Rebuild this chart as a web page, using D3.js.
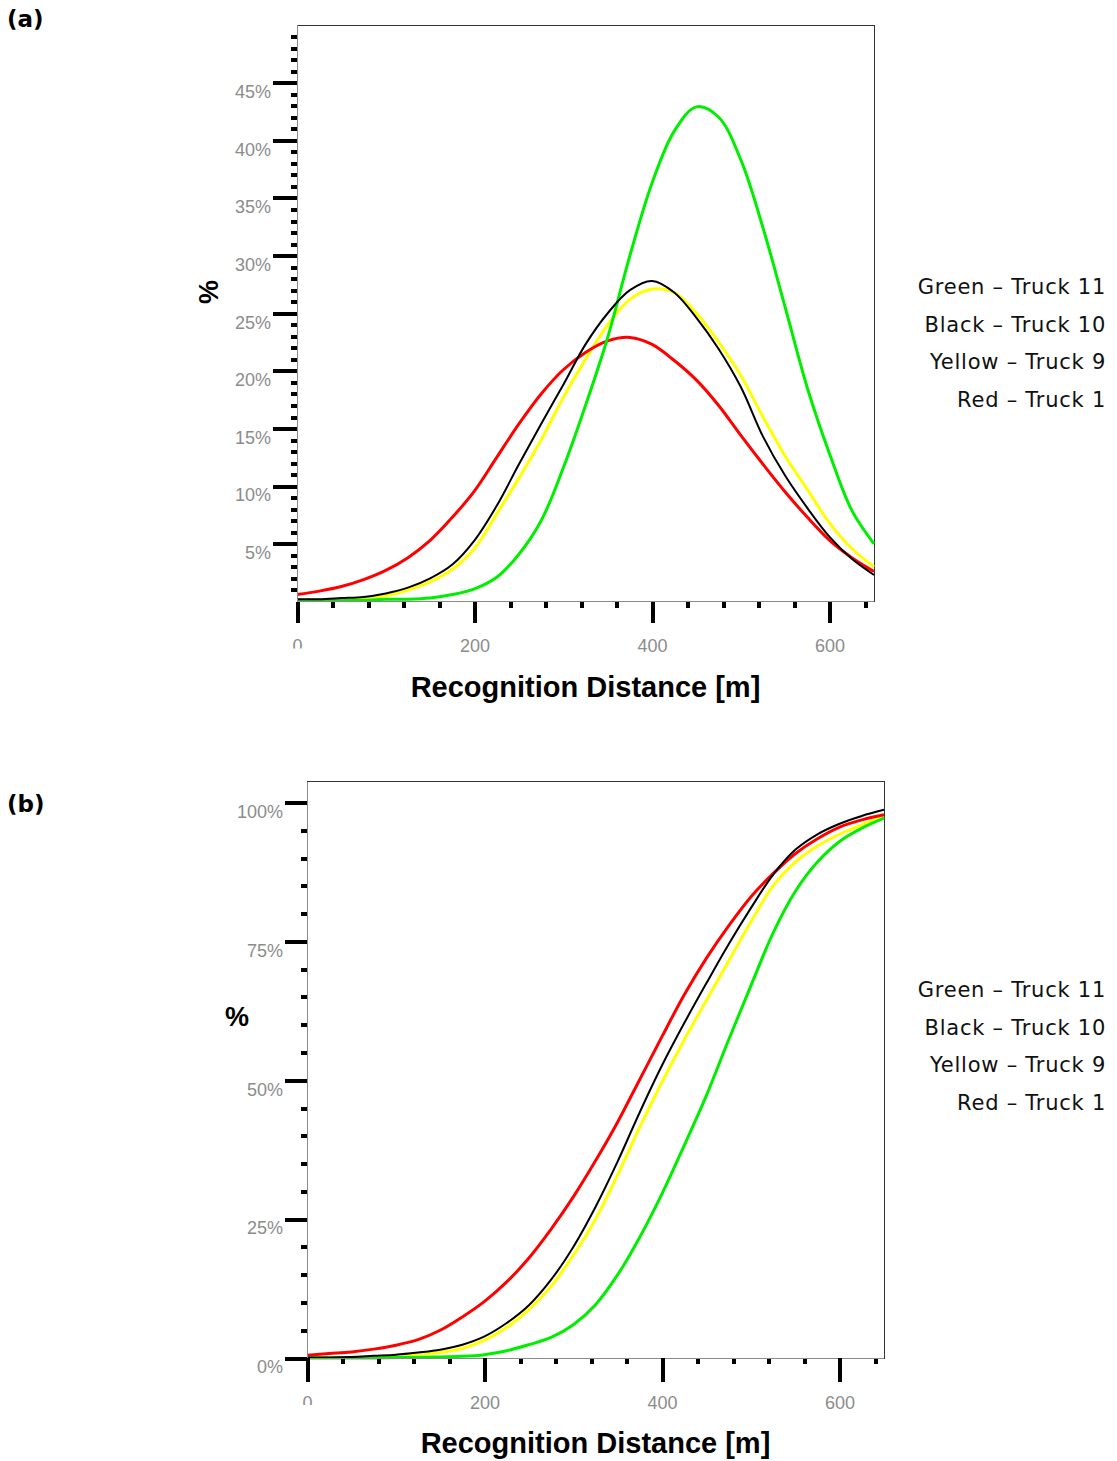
<!DOCTYPE html>
<html lang="en">
<head>
    <meta charset="UTF-8">
    <title>Recognition distance</title>
    <script src="https://cdn.jsdelivr.net/npm/d3@7"></script>
    <style>
        body { margin: 0; background: #fff; }
        svg { display: block; }
        .axis path { fill: none; stroke: #8a8a8a; stroke-width: 1; shape-rendering: crispEdges; }
        .axis line { stroke: #000; stroke-width: 4; shape-rendering: crispEdges; }
        .axis text { font-family: "Liberation Sans", Arial, sans-serif; font-size: 18px; fill: #8c8c8c; }
        .title { font-family: "Liberation Sans", Arial, sans-serif; font-weight: bold; fill: #000; }
        .legend text { font-family: "DejaVu Sans", Verdana, sans-serif; font-size: 21px; letter-spacing: 0.75px; fill: #111; }
        .panel { font-family: "DejaVu Sans", Verdana, sans-serif; font-weight: bold; font-size: 23px; }
    </style>
</head>
<body>
<script>
    var width = 1117;
    var height = 1461;

    // distances [m]
    var distance = [0, 25, 50, 75, 100, 125, 150, 175, 200, 225, 250, 275, 300, 325,
                    350, 375, 400, 425, 450, 475, 500, 525, 550, 575, 600, 625, 650];

    // (a) distribution, %
    var densGreen  = [0.1, 0.1, 0.1, 0.1, 0.2, 0.2, 0.3, 0.6, 1.1, 2.1, 4.1, 7.0, 11.6, 17.0,
                      22.9, 30.0, 36.3, 40.8, 42.9, 42.0, 38.3, 32.4, 25.5, 18.5, 12.8, 7.9, 5.0];
    var densBlack  = [0.2, 0.2, 0.3, 0.4, 0.7, 1.2, 2.0, 3.2, 5.3, 8.3, 11.9, 15.4, 18.8, 22.3,
                      25.0, 27.0, 27.8, 26.8, 24.6, 21.9, 18.6, 14.3, 10.9, 8.1, 5.6, 3.7, 2.3];
    var densYellow = [0.1, 0.1, 0.2, 0.3, 0.5, 1.0, 1.7, 2.8, 4.6, 7.6, 10.7, 14.0, 17.7, 21.0,
                      24.0, 26.2, 27.1, 26.8, 25.0, 22.5, 19.6, 16.0, 12.6, 9.7, 6.8, 4.6, 3.0];
    var densRed    = [0.6, 0.9, 1.3, 1.9, 2.7, 3.8, 5.3, 7.3, 9.6, 12.5, 15.4, 18.0, 20.1, 21.6,
                      22.6, 22.9, 22.3, 20.9, 19.2, 17.0, 14.4, 11.9, 9.5, 7.3, 5.3, 3.8, 2.6];

    // (b) cumulative, %
    var cumGreen  = [0.0, 0.0, 0.0, 0.0, 0.1, 0.1, 0.2, 0.3, 0.6, 1.3, 2.4, 3.7, 6.0, 9.6,
                     15.0, 21.8, 29.6, 38.3, 47.3, 57.3, 67.0, 76.5, 84.0, 89.3, 93.0, 95.4, 97.2];
    var cumBlack  = [0.1, 0.1, 0.2, 0.4, 0.6, 1.0, 1.5, 2.4, 3.9, 6.3, 9.5, 14.1, 20.0, 27.2,
                     35.4, 44.3, 52.7, 60.3, 67.5, 74.5, 81.0, 87.0, 91.5, 94.3, 96.2, 97.6, 98.7];
    var cumYellow = [0.0, 0.1, 0.1, 0.2, 0.4, 0.7, 1.0, 1.7, 3.2, 5.5, 8.7, 12.9, 18.5, 25.0,
                     33.0, 41.6, 49.7, 57.3, 64.4, 71.5, 78.5, 85.0, 89.3, 92.2, 94.3, 96.0, 97.4];
    var cumRed    = [0.5, 0.8, 1.1, 1.6, 2.3, 3.3, 5.0, 7.4, 10.2, 13.7, 18.0, 23.2, 29.0, 35.5,
                     42.5, 50.2, 57.9, 65.4, 72.0, 77.8, 83.0, 87.2, 90.8, 93.5, 95.6, 96.9, 97.8];

    var legendLabels = ["Green \u2013 Truck 11", "Black \u2013 Truck 10", "Yellow \u2013 Truck 9", "Red \u2013 Truck 1"];
    var xMajor = [0, 200, 400, 600];
    var xMinor = [40, 80, 120, 160, 240, 280, 320, 360, 440, 480, 520, 560, 640];

    var svg = d3.select("body").append("svg")
        .attr("width", width)
        .attr("height", height);

    // draw one panel
    function panel(p) {
        var x = d3.scaleLinear().domain([0, 650]).range([p.left, p.left + 577]);
        var y = d3.scaleLinear().domain([0, p.yMax]).range([p.bottom, p.top]);

        var g = svg.append("g");

        // frame
        g.append("rect")
            .attr("x", x(0)).attr("y", y(p.yMax))
            .attr("width", x(650) - x(0)).attr("height", y(0) - y(p.yMax))
            .attr("fill", "none").attr("stroke", "#333").attr("stroke-width", 1)
            .attr("shape-rendering", "crispEdges");

        // series: draw order yellow, red, green, black
        var series = [
            {v: p.data[2], c: "#ffff00", w: 3},
            {v: p.data[3], c: "#ff0000", w: 3},
            {v: p.data[0], c: "#00ee00", w: 3},
            {v: p.data[1], c: "#000000", w: 2}
        ];
        var line = d3.line()
            .x(function(d, i){ return x(distance[i]); })
            .y(function(d){ return y(d / 100); })
            .curve(d3.curveCatmullRom.alpha(0.5));
        g.selectAll("path.s").data(series).enter()
            .append("path").attr("class", "s")
            .attr("d", function(d){ return line(d.v); })
            .attr("fill", "none")
            .attr("stroke", function(d){ return d.c; })
            .attr("stroke-width", function(d){ return d.w; })
            .attr("stroke-linejoin", "round");

        // y axis minor then major
        g.append("g").attr("class", "axis")
            .attr("transform", "translate(" + x(0) + ",0)")
            .call(d3.axisLeft(y).tickValues(p.yMinor).tickSize(6).tickFormat(""))
            .select(".domain").remove();
        var ya = g.append("g").attr("class", "axis")
            .attr("transform", "translate(" + x(0) + ",0)")
            .call(d3.axisLeft(y).tickValues(p.yMajor).tickSize(p.yTick).tickSizeOuter(0)
                .tickFormat(d3.format(".0%")).tickPadding(2));
        ya.selectAll("text").attr("y", 9);
        ya.select(".domain").attr("d", "M0," + y(p.yMax) + "V" + y(0));

        // x axis minor then major
        g.append("g").attr("class", "axis")
            .attr("transform", "translate(0," + y(0) + ")")
            .call(d3.axisBottom(x).tickValues(xMinor).tickSize(6).tickFormat(""))
            .select(".domain").remove();
        var xa = g.append("g").attr("class", "axis")
            .attr("transform", "translate(0," + y(0) + ")")
            .call(d3.axisBottom(x).tickValues(xMajor).tickSize(p.xTick).tickSizeOuter(0));
        xa.selectAll("text").attr("y", 38);
        xa.select(".domain").attr("d", "M" + x(0) + ",0H" + x(650));

        // the "0" label is cut off in the original
        var cid = "clip" + p.id;
        svg.append("clipPath").attr("id", cid)
            .append("rect").attr("x", -20).attr("y", 0).attr("width", 40).attr("height", 47);
        xa.selectAll(".tick").filter(function(d){ return d === 0; })
            .select("text").attr("clip-path", "url(#" + cid + ")");

        // titles
        g.append("text").attr("class", "title")
            .attr("x", (x(0) + x(650)) / 2).attr("y", y(0) + 95)
            .attr("text-anchor", "middle").attr("font-size", 29)
            .text("Recognition Distance [m]");
        var yt = g.append("text").attr("class", "title")
            .attr("text-anchor", "middle").attr("font-size", 27)
            .text("%");
        if (p.rotate) {
            yt.attr("transform", "translate(" + p.ytx + "," + p.yty + ") rotate(-90)").attr("dy", "0.35em");
        } else {
            yt.attr("x", p.ytx).attr("y", p.yty).attr("dy", "0.35em");
        }

        // legend
        g.append("g").attr("class", "legend")
            .selectAll("text").data(legendLabels).enter()
            .append("text")
            .attr("x", 1106)
            .attr("y", function(d, i){ return p.legendY + i * 37.5; })
            .attr("dy", "0.35em")
            .attr("text-anchor", "end")
            .text(function(d){ return d; });

        g.append("text").attr("class", "panel")
            .attr("x", 7).attr("y", p.labelY).attr("dy", "0.35em")
            .text(p.label);
    }

    var minorA = d3.range(1, 50).filter(function(v){ return v % 5 !== 0; }).map(function(v){ return v / 100; });
    var minorB = d3.range(5, 100, 5).filter(function(v){ return v % 25 !== 0; }).map(function(v){ return v / 100; });

    panel({
        id: "a", label: "(a)", labelY: 19,
        left: 297, top: 25, bottom: 601.5, yMax: 0.5,
        yMajor: [0.05, 0.10, 0.15, 0.20, 0.25, 0.30, 0.35, 0.40, 0.45],
        yMinor: minorA, yTick: 24, xTick: 21,
        data: [densGreen, densBlack, densYellow, densRed],
        rotate: true, ytx: 209, yty: 292, legendY: 287
    });

    panel({
        id: "b", label: "(b)", labelY: 804,
        left: 307, top: 781.5, bottom: 1358, yMax: 1.038,
        yMajor: [0, 0.25, 0.5, 0.75, 1.0],
        yMinor: minorB, yTick: 22, xTick: 24,
        data: [cumGreen, cumBlack, cumYellow, cumRed],
        rotate: false, ytx: 237, yty: 1017, legendY: 990
    });
</script>
</body>
</html>
